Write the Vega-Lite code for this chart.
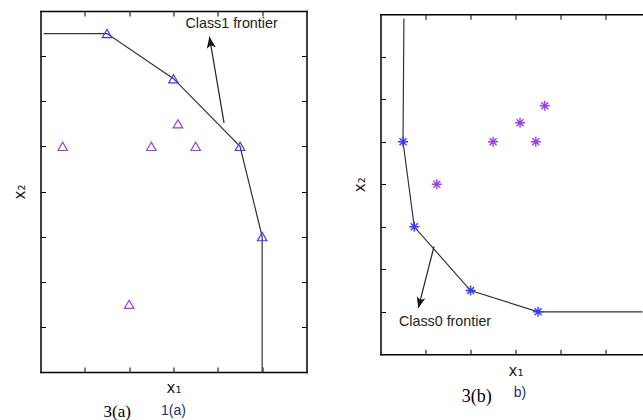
{
  "$schema": "https://vega.github.io/schema/vega-lite/v6.json",
  "padding": {"left": 12.5, "top": 10, "right": 0, "bottom": 0},
  "background": "white",
  "config": {
    "font": "Liberation Sans",
    "view": {"stroke": null},
    "axis": {
      "labels": false,
      "grid": false,
      "tickSize": -5,
      "tickColor": "black",
      "tickWidth": 1,
      "domain": true,
      "domainColor": "black",
      "domainWidth": 1.5,
      "domainCap": "square",
      "titleFont": "DejaVu Sans",
      "titleFontSize": 15,
      "titleFontWeight": "normal",
      "titleColor": "#222"
    }
  },
  "datasets": {
    "aFrontier": [
      {"x1": 0.07, "x2": 7.5, "k": 0},
      {"x1": 1.5, "x2": 7.5, "k": 1},
      {"x1": 3.0, "x2": 6.5, "k": 2},
      {"x1": 4.5, "x2": 5.0, "k": 3},
      {"x1": 5.0, "x2": 3.0, "k": 4},
      {"x1": 5.0, "x2": 0.0, "k": 5}
    ],
    "aPoints": [
      {"x1": 1.5, "x2": 7.5, "group": "frontier"},
      {"x1": 3.0, "x2": 6.5, "group": "frontier"},
      {"x1": 4.5, "x2": 5.0, "group": "frontier"},
      {"x1": 5.0, "x2": 3.0, "group": "frontier"},
      {"x1": 0.5, "x2": 5.0, "group": "interior"},
      {"x1": 2.5, "x2": 5.0, "group": "interior"},
      {"x1": 3.1, "x2": 5.5, "group": "interior"},
      {"x1": 3.5, "x2": 5.0, "group": "interior"},
      {"x1": 2.0, "x2": 1.5, "group": "interior"}
    ],
    "aArrow": [{"fromX": 4.14, "fromY": 5.52, "toX": 3.81, "toY": 7.43}],
    "aLabel": [{"x1": 3.27, "x2": 7.72, "text": "Class1 frontier"}],
    "aCap1": [{"x1": 1.73, "x2": -1.0, "text": "3(a)"}],
    "aCap2": [{"x1": 3.0, "x2": -0.96, "text": "1(a)"}],
    "bFrontier": [
      {"x1": 0.52, "x2": 7.9, "k": 0},
      {"x1": 0.5, "x2": 5.0, "k": 1},
      {"x1": 0.75, "x2": 3.0, "k": 2},
      {"x1": 2.0, "x2": 1.5, "k": 3},
      {"x1": 3.5, "x2": 1.0, "k": 4},
      {"x1": 6.0, "x2": 1.0, "k": 5}
    ],
    "bPoints": [
      {"x1": 0.5, "x2": 5.0, "group": "frontier"},
      {"x1": 0.75, "x2": 3.0, "group": "frontier"},
      {"x1": 2.0, "x2": 1.5, "group": "frontier"},
      {"x1": 3.5, "x2": 1.0, "group": "frontier"},
      {"x1": 2.5, "x2": 5.0, "group": "interior"},
      {"x1": 3.1, "x2": 5.45, "group": "interior"},
      {"x1": 3.45, "x2": 5.0, "group": "interior"},
      {"x1": 3.65, "x2": 5.85, "group": "interior"},
      {"x1": 1.25, "x2": 4.0, "group": "interior"}
    ],
    "bArrow": [{"fromX": 1.19, "fromY": 2.54, "toX": 0.84, "toY": 1.09}],
    "bLabel": [{"x1": 0.41, "x2": 0.77, "text": "Class0 frontier"}],
    "bCap1": [{"x1": 2.14, "x2": -1.13, "text": "3(b)"}],
    "bCap2": [{"x1": 3.1, "x2": -1.01, "text": "b)"}]
  },
  "hconcat": [
    {
      "width": 266,
      "height": 361,
      "resolve": {"axis": {"x": "independent", "y": "independent"}},
      "layer": [
        {
          "data": {"name": "aFrontier"},
          "mark": {"type": "line", "color": "#333", "strokeWidth": 1.2},
          "encoding": {
            "x": {"field": "x1", "type": "quantitative", "scale": {"domain": [0, 6], "nice": false, "zero": false},
                  "axis": {"orient": "bottom", "values": [1, 2, 3, 4, 5], "title": "x₁", "titlePadding": 8}},
            "y": {"field": "x2", "type": "quantitative", "scale": {"domain": [0, 8], "nice": false, "zero": false},
                  "axis": {"orient": "left", "values": [1, 2, 3, 4, 5, 6, 7], "title": "x₂", "titlePadding": 12.5}},
            "order": {"field": "k", "type": "quantitative"}
          }
        },
        {
          "data": {"name": "aArrow"},
          "mark": {"type": "rule", "color": "#222", "strokeWidth": 1.2},
          "encoding": {
            "x": {"field": "fromX", "type": "quantitative", "scale": {"domain": [0, 6], "nice": false, "zero": false}, "axis": null},
            "y": {"field": "fromY", "type": "quantitative", "scale": {"domain": [0, 8], "nice": false, "zero": false}, "axis": null},
            "x2": {"field": "toX"},
            "y2": {"field": "toY"}
          }
        },
        {
          "data": {"name": "aArrow"},
          "mark": {"type": "point", "shape": "M0,0L0.8,2L0,1.5L-0.8,2Z", "filled": true, "color": "#111", "opacity": 1, "size": 130, "angle": -9.4},
          "encoding": {
            "x": {"field": "toX", "type": "quantitative", "scale": {"domain": [0, 6], "nice": false, "zero": false}, "axis": null},
            "y": {"field": "toY", "type": "quantitative", "scale": {"domain": [0, 8], "nice": false, "zero": false}, "axis": null}
          }
        },
        {
          "data": {"name": "aPoints"},
          "mark": {"type": "point", "shape": "triangle-up", "filled": false, "strokeWidth": 1.2, "size": 90, "opacity": 1},
          "encoding": {
            "x": {"field": "x1", "type": "quantitative", "scale": {"domain": [0, 6], "nice": false, "zero": false},
                  "axis": {"orient": "top", "values": [1, 2, 3, 4, 5], "title": null}},
            "y": {"field": "x2", "type": "quantitative", "scale": {"domain": [0, 8], "nice": false, "zero": false},
                  "axis": {"orient": "right", "values": [1, 2, 3, 4, 5, 6, 7], "title": null}},
            "color": {"field": "group", "type": "nominal", "scale": {"domain": ["frontier", "interior"], "range": ["#3a3aff", "#9a40e0"]}, "legend": null}
          }
        },
        {
          "data": {"name": "aLabel"},
          "mark": {"type": "text", "align": "left", "baseline": "middle", "font": "Liberation Sans", "fontSize": 14.3, "color": "#222"},
          "encoding": {
            "x": {"field": "x1", "type": "quantitative", "scale": {"domain": [0, 6], "nice": false, "zero": false}, "axis": null},
            "y": {"field": "x2", "type": "quantitative", "scale": {"domain": [0, 8], "nice": false, "zero": false}, "axis": null},
            "text": {"field": "text"}
          }
        },
        {
          "data": {"name": "aCap1"},
          "mark": {"type": "text", "align": "center", "baseline": "alphabetic", "font": "Liberation Serif", "fontSize": 17, "color": "black"},
          "encoding": {
            "x": {"field": "x1", "type": "quantitative", "scale": {"domain": [0, 6], "nice": false, "zero": false}, "axis": null},
            "y": {"field": "x2", "type": "quantitative", "scale": {"domain": [0, 8], "nice": false, "zero": false}, "axis": null},
            "text": {"field": "text"}
          }
        },
        {
          "data": {"name": "aCap2"},
          "mark": {"type": "text", "align": "center", "baseline": "alphabetic", "font": "Liberation Sans", "fontSize": 14, "color": "#203070"},
          "encoding": {
            "x": {"field": "x1", "type": "quantitative", "scale": {"domain": [0, 6], "nice": false, "zero": false}, "axis": null},
            "y": {"field": "x2", "type": "quantitative", "scale": {"domain": [0, 8], "nice": false, "zero": false}, "axis": null},
            "text": {"field": "text"}
          }
        }
      ]
    },
    {
      "width": 262,
      "height": 343.3,
      "resolve": {"axis": {"x": "independent", "y": "independent"}},
      "layer": [
        {
          "data": {"name": "bFrontier"},
          "mark": {"type": "line", "color": "#333", "strokeWidth": 1.2, "clip": true},
          "encoding": {
            "x": {"field": "x1", "type": "quantitative", "scale": {"domain": [0, 5.82], "nice": false, "zero": false},
                  "axis": {"orient": "bottom", "values": [1, 2, 3, 4, 5], "title": "x₁", "titlePadding": 9, "titleX": 135}},
            "y": {"field": "x2", "type": "quantitative", "scale": {"domain": [0, 8], "range": [343.3, 3.3], "nice": false, "zero": false},
                  "axis": {"orient": "left", "values": [1, 2, 3, 4, 5, 6, 7], "title": "x₂", "titlePadding": 13}},
            "order": {"field": "k", "type": "quantitative"}
          }
        },
        {
          "data": {"name": "bArrow"},
          "mark": {"type": "rule", "color": "#222", "strokeWidth": 1.2},
          "encoding": {
            "x": {"field": "fromX", "type": "quantitative", "scale": {"domain": [0, 5.82], "nice": false, "zero": false}, "axis": null},
            "y": {"field": "fromY", "type": "quantitative", "scale": {"domain": [0, 8], "range": [343.3, 3.3], "nice": false, "zero": false}, "axis": null},
            "x2": {"field": "toX"},
            "y2": {"field": "toY"}
          }
        },
        {
          "data": {"name": "bArrow"},
          "mark": {"type": "point", "shape": "M0,0L0.8,2L0,1.5L-0.8,2Z", "filled": true, "color": "#111", "opacity": 1, "size": 120, "angle": 194.3},
          "encoding": {
            "x": {"field": "toX", "type": "quantitative", "scale": {"domain": [0, 5.82], "nice": false, "zero": false}, "axis": null},
            "y": {"field": "toY", "type": "quantitative", "scale": {"domain": [0, 8], "range": [343.3, 3.3], "nice": false, "zero": false}, "axis": null}
          }
        },
        {
          "data": {"name": "bPoints"},
          "mark": {"type": "point", "shape": "M-1,0L1,0M0,-1L0,1M-0.7,-0.7L0.7,0.7M-0.7,0.7L0.7,-0.7", "filled": false, "strokeWidth": 1.4, "size": 100, "opacity": 1},
          "encoding": {
            "x": {"field": "x1", "type": "quantitative", "scale": {"domain": [0, 5.82], "nice": false, "zero": false},
                  "axis": {"orient": "top", "values": [1, 2, 3, 4, 5], "title": null, "offset": -3.3}},
            "y": {"field": "x2", "type": "quantitative", "scale": {"domain": [0, 8], "range": [343.3, 3.3], "nice": false, "zero": false}, "axis": null},
            "color": {"field": "group", "type": "nominal", "scale": {"domain": ["frontier", "interior"], "range": ["#2a2aff", "#9a40e0"]}, "legend": null}
          }
        },
        {
          "data": {"name": "bLabel"},
          "mark": {"type": "text", "align": "left", "baseline": "middle", "font": "Liberation Sans", "fontSize": 14.3, "color": "#222"},
          "encoding": {
            "x": {"field": "x1", "type": "quantitative", "scale": {"domain": [0, 5.82], "nice": false, "zero": false}, "axis": null},
            "y": {"field": "x2", "type": "quantitative", "scale": {"domain": [0, 8], "range": [343.3, 3.3], "nice": false, "zero": false}, "axis": null},
            "text": {"field": "text"}
          }
        },
        {
          "data": {"name": "bCap1"},
          "mark": {"type": "text", "align": "center", "baseline": "alphabetic", "font": "Liberation Serif", "fontSize": 18, "color": "black"},
          "encoding": {
            "x": {"field": "x1", "type": "quantitative", "scale": {"domain": [0, 5.82], "nice": false, "zero": false}, "axis": null},
            "y": {"field": "x2", "type": "quantitative", "scale": {"domain": [0, 8], "range": [343.3, 3.3], "nice": false, "zero": false}, "axis": null},
            "text": {"field": "text"}
          }
        },
        {
          "data": {"name": "bCap2"},
          "mark": {"type": "text", "align": "center", "baseline": "alphabetic", "font": "Liberation Sans", "fontSize": 14, "color": "#203070"},
          "encoding": {
            "x": {"field": "x1", "type": "quantitative", "scale": {"domain": [0, 5.82], "nice": false, "zero": false}, "axis": null},
            "y": {"field": "x2", "type": "quantitative", "scale": {"domain": [0, 8], "range": [343.3, 3.3], "nice": false, "zero": false}, "axis": null},
            "text": {"field": "text"}
          }
        }
      ]
    }
  ],
  "spacing": 44
}
